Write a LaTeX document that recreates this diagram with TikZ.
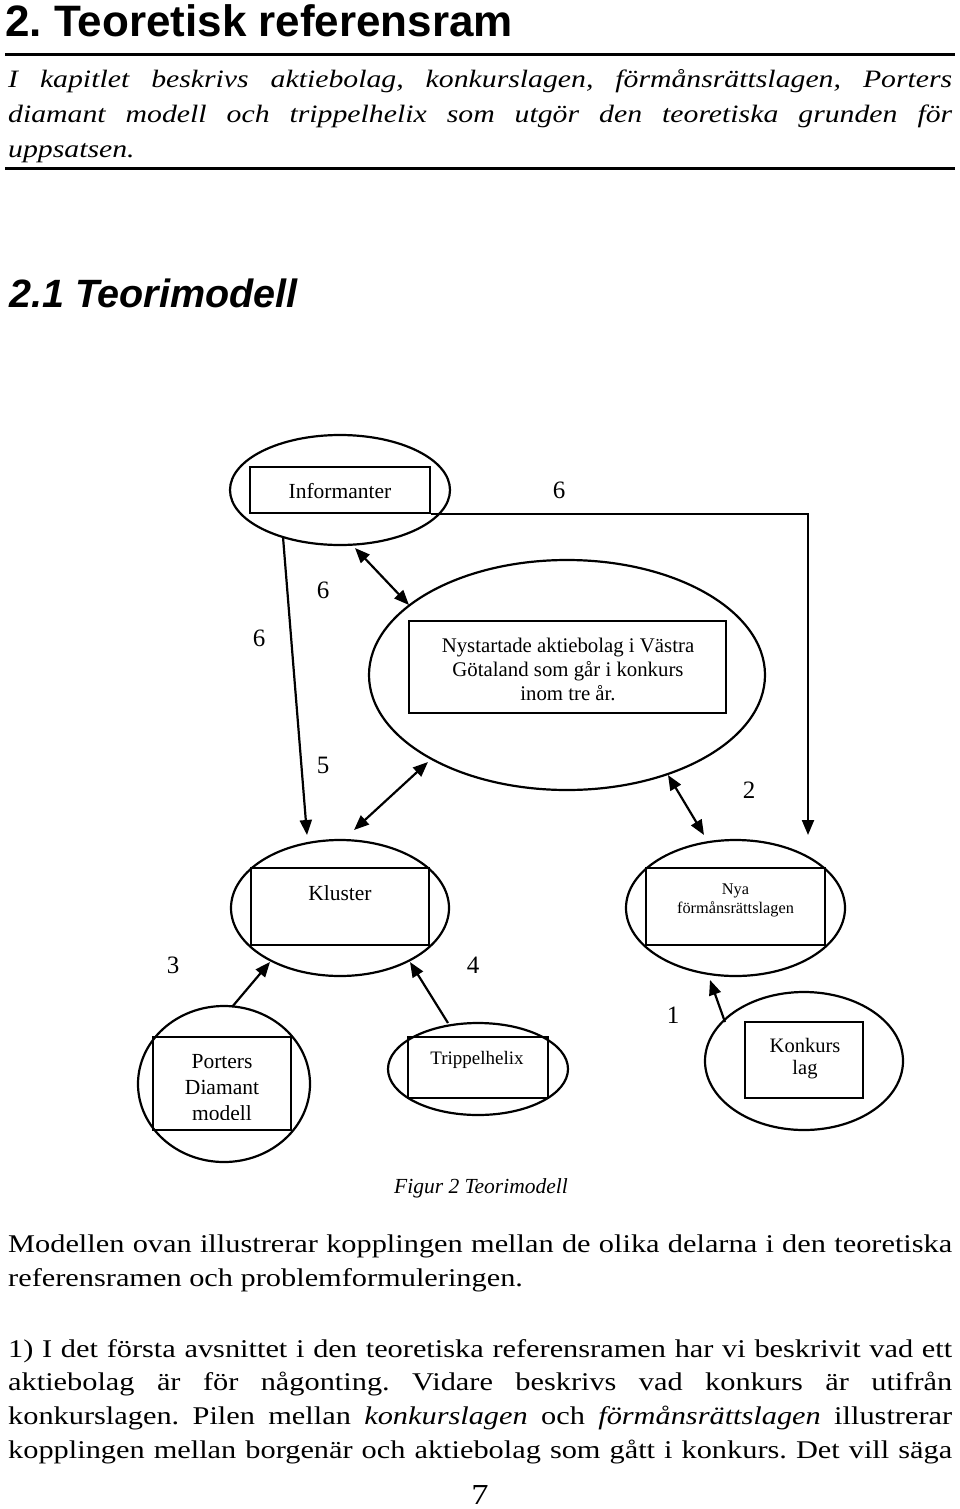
\documentclass[tikz,border=0pt]{standalone}
\usepackage{fontspec}
\setmainfont{Liberation Serif}
\newfontfamily\bodyfont[FakeStretch=1.19]{Liberation Serif}
\newfontfamily\headfont{Liberation Sans}
\usetikzlibrary{shapes.geometric,arrows.meta}
\frenchspacing
\tikzset{
  ell/.style={draw, ellipse, line width=2.2pt, inner sep=0pt},
  box/.style={draw, rectangle, line width=1.8pt, inner sep=0pt},
  txt/.style={inner sep=0pt, align=center},
  lab/.style={inner sep=0pt, font=\fontsize{25}{25}\selectfont},
  tipA/.tip={Triangle[length=15pt,width=12pt]},
  arr/.style={line width=2.2pt, -tipA},
  darr/.style={line width=2.2pt, tipA-tipA},
  rulebar/.style={line width=3pt}
}
\begin{document}
\begin{tikzpicture}[x=1pt,y=-1pt]
\fill[white] (0,0) rectangle (960,1509);
\useasboundingbox (0,0) rectangle (960,1509);

% ---------- header ----------
\node[anchor=base west, inner sep=0pt] (h1) at (5,37)
  {\headfont\bfseries\fontsize{44}{44}\selectfont 2. Teoretisk referensram};
\draw[rulebar] (5,55) -- (955,55);
\node[anchor=base west, inner sep=0pt] (intro) at (8,88)
  {\parbox[t]{944pt}{\bodyfont\fontsize{25}{35}\selectfont\itshape
   \hbox to 944pt{I kapitlet beskrivs aktiebolag, konkurslagen, förmånsrättslagen, Porters}
   \hbox to 944pt{diamant modell och trippelhelix som utgör den teoretiska grunden för}
   \hbox{uppsatsen.}}};
\draw[rulebar] (5,168) -- (955,168);
\node[anchor=base west, inner sep=0pt] (h2) at (9,307)
  {\headfont\bfseries\itshape\fontsize{39.5}{39.5}\selectfont 2.1 Teorimodell};

% ---------- diagram nodes ----------
\node[ell, minimum width=220pt, minimum height=110pt] (infE) at (340,490) {};
\node[box, minimum width=180pt, minimum height=46pt] (infB) at (340,490) {};
\node[txt, font=\fontsize{21.5}{24}\selectfont] (infT) at (340,491) {Informanter};

\node[ell, minimum width=396pt, minimum height=230pt] (nysE) at (567,675) {};
\node[box, minimum width=317pt, minimum height=92pt] (nysB) at (567.5,667) {};
\node[txt, font=\fontsize{20.8}{24}\selectfont] (nysT) at (568,669)
  {Nystartade aktiebolag i Västra\\Götaland som går i konkurs\\inom tre år.};

\node[ell, minimum width=218pt, minimum height=136pt] (kluE) at (340,908) {};
\node[box, minimum width=178pt, minimum height=77pt] (kluB) at (340,906.5) {};
\node[txt, font=\fontsize{21.5}{24}\selectfont] (kluT) at (340,893) {Kluster};

\node[ell, minimum width=219pt, minimum height=136pt] (nyaE) at (735.5,908) {};
\node[box, minimum width=179pt, minimum height=77pt] (nyaB) at (735.5,906.5) {};
\node[txt, font=\fontsize{16.3}{19}\selectfont] (nyaT) at (735.5,900) {Nya\\förmånsrättslagen};

\node[ell, minimum width=172pt, minimum height=156pt] (porE) at (224,1084) {};
\node[box, minimum width=138pt, minimum height=93pt] (porB) at (222,1083.5) {};
\begin{scope}
  \clip (153,1037) rectangle (291,1119);
  \node[txt, font=\fontsize{21.5}{26}\selectfont] (porT) at (222,1088) {Porters\\Diamant\\modell};
\end{scope}

\node[ell, minimum width=180pt, minimum height=92pt] (triE) at (478,1069) {};
\node[box, minimum width=140pt, minimum height=61pt] (triB) at (478,1067.5) {};
\node[txt, font=\fontsize{19}{22}\selectfont] (triT) at (477,1060) {Trippelhelix};

\node[ell, minimum width=198pt, minimum height=138pt] (konE) at (804,1061) {};
\node[box, minimum width=118pt, minimum height=76pt] (konB) at (804,1060) {};
\node[txt, font=\fontsize{20.5}{22}\selectfont] (konT) at (805,1059) {Konkurs\\lag};

% ---------- number labels ----------
\node[lab] (l6a) at (559,490) {6};
\node[lab] (l6b) at (323,590) {6};
\node[lab] (l6c) at (259,638) {6};
\node[lab] (l5) at (323,765) {5};
\node[lab] (l2) at (749,790) {2};
\node[lab] (l3) at (173,965) {3};
\node[lab] (l4) at (473,965) {4};
\node[lab] (l1) at (673,1015) {1};

% ---------- connector end points ----------
\coordinate (infBot) at (283,537);
\coordinate (kluTopL) at (307,835);
\coordinate (infNys) at (355,548);
\coordinate (nysInf) at (409,605);
\coordinate (nysKlu) at (428,762);
\coordinate (kluNys) at (354,830);
\coordinate (nysNya) at (668,775);
\coordinate (nyaNys) at (704,835);
\coordinate (nyaTop) at (808,835);
\coordinate (porTop) at (232,1007);
\coordinate (kluBotL) at (270,962);
\coordinate (triTop) at (448,1023);
\coordinate (kluBotR) at (410,962);
\coordinate (konTop) at (725,1022);
\coordinate (nyaBot) at (710,980);

% ---------- connectors ----------
\draw[arr] (infBot) -- (kluTopL);
\draw[darr] (infNys) -- (nysInf);
\draw[darr] (nysKlu) -- (kluNys);
\draw[darr] (nysNya) -- (nyaNys);
\draw[arr] (infB.south east) -| (nyaTop);
\draw[arr] (porTop) -- (kluBotL);
\draw[arr] (triTop) -- (kluBotR);
\draw[arr] (konTop) -- (nyaBot);

% ---------- caption and body ----------
\node[anchor=base, inner sep=0pt] (cap) at (481,1193)
  {\fontsize{21.5}{24}\selectfont\itshape Figur 2 Teorimodell};

\node[anchor=base west, inner sep=0pt] (para1) at (8,1252)
  {\parbox[t]{944pt}{\bodyfont\fontsize{25.5}{34}\selectfont
   \hbox to 944pt{Modellen ovan illustrerar kopplingen mellan de olika delarna i den teoretiska}
   \hbox{referensramen och problemformuleringen.}}};

\node[anchor=base west, inner sep=0pt] (para2) at (8,1357)
  {\parbox[t]{944pt}{\bodyfont\fontsize{25.5}{33.7}\selectfont
   \hbox to 944pt{1) I det första avsnittet i den teoretiska referensramen har vi beskrivit vad ett}
   \hbox to 944pt{aktiebolag är för någonting. Vidare beskrivs vad konkurs är utifrån}
   \hbox to 944pt{konkurslagen. Pilen mellan \textit{konkurslagen} och \textit{förmånsrättslagen} illustrerar}
   \hbox to 944pt{kopplingen mellan borgenär och aktiebolag som gått i konkurs. Det vill säga}}};

\node[anchor=base, inner sep=0pt] (pg) at (480,1504)
  {\bodyfont\fontsize{29}{29}\selectfont 7};
\end{tikzpicture}
\end{document}
